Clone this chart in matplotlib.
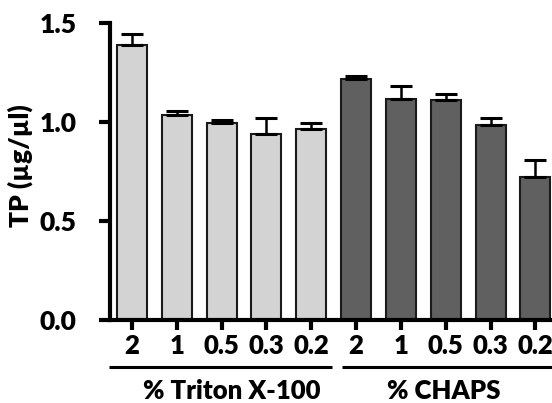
import matplotlib
matplotlib.use("Agg")
import matplotlib.pyplot as plt
import matplotlib.transforms as mtransforms

plt.rcParams['font.family'] = ['Lato', 'DejaVu Sans']
plt.rcParams['font.weight'] = 'heavy'

tick_labels = ["2", "1", "0.5", "0.3", "0.2", "2", "1", "0.5", "0.3", "0.2"]
triton_values = [1.389, 1.034, 0.995, 0.941, 0.965]
triton_err = [0.055, 0.023, 0.017, 0.078, 0.030]
chaps_values = [1.219, 1.118, 1.113, 0.987, 0.724]
chaps_err = [0.013, 0.062, 0.028, 0.032, 0.084]
group_labels = ["% Triton X-100", "% CHAPS"]
y_ticks = [0.0, 0.5, 1.0, 1.5]

fig = plt.figure(figsize=(5.52, 4.03), dpi=100)
ax = fig.add_axes([110/552, (403-320)/403, 442/552, 297/403])

n_t = len(triton_values)
n_c = len(chaps_values)
xt = list(range(n_t))
xc = list(range(n_t, n_t + n_c))
w = 0.67
ekw = dict(elinewidth=1.8, capthick=2.2)
ax.bar(xt, triton_values, width=w, color='#d3d3d3', edgecolor='#1a1a1a', linewidth=1.5,
       yerr=[[0]*n_t, triton_err], capsize=8, error_kw=ekw, zorder=2)
ax.bar(xc, chaps_values, width=w, color='#606060', edgecolor='#1a1a1a', linewidth=1.5,
       yerr=[[0]*n_c, chaps_err], capsize=8, error_kw=ekw, zorder=2)

ax.set_xlim(-0.49, 9.37)
ax.set_ylim(0, 1.5)
ax.set_yticks(y_ticks)
ax.set_yticklabels([f"{v:.1f}" for v in y_ticks], fontsize=19, fontweight='heavy')
ax.set_xticks(xt + xc)
ax.set_xticklabels(tick_labels, fontsize=18.5, fontweight='heavy')

for s in ['top', 'right']:
    ax.spines[s].set_visible(False)
ax.spines['left'].set_linewidth(3)
ax.spines['bottom'].set_linewidth(3)
ax.tick_params(axis='y', length=8, width=3, pad=16)
ax.tick_params(axis='x', length=7, width=3, pad=3)

ax.set_ylabel("TP (\u00b5g/\u00b5l)", fontsize=19, fontweight='heavy')
ax.yaxis.set_label_coords(-0.175, 0.52)

trans = mtransforms.blended_transform_factory(ax.transData, ax.transAxes)
lines = [(-0.51, 4.46), (4.69, 9.4)]
label_x = [2.23, 6.96]
for (x0, x1), lx, lab in zip(lines, label_x, group_labels):
    ax.plot([x0, x1], [-0.158, -0.158], transform=trans, color='black', lw=2.2, clip_on=False,
            solid_capstyle='butt')
    ax.text(lx, -0.238, lab, transform=trans, ha='center', va='center',
            fontsize=18.5, fontweight='heavy')

fig.savefig("out.png", dpi=100)
